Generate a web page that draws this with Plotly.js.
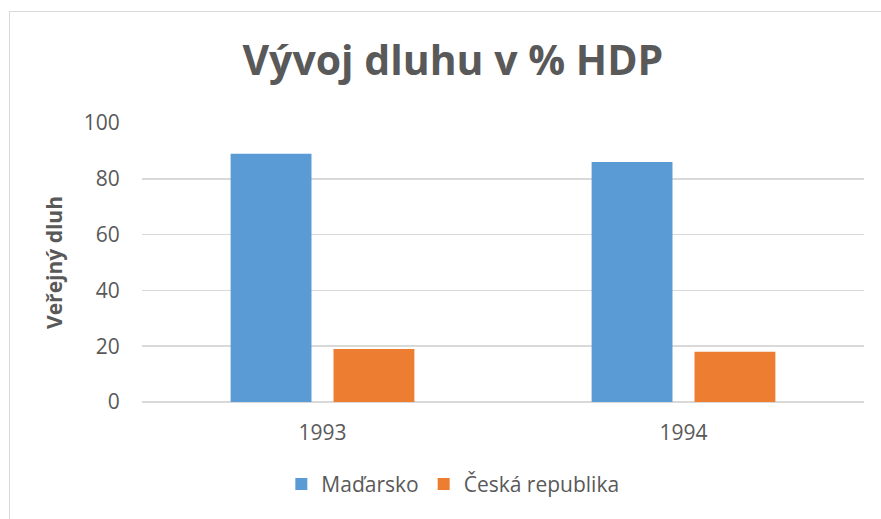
<!DOCTYPE html>
<html>
<head>
<meta charset="utf-8">
<script src="https://cdn.plot.ly/plotly-3.0.1.min.js"></script>
<style>
  html, body { margin: 0; padding: 0; background: #fff; }
  #wrap { position: relative; width: 881px; height: 519px; overflow: hidden; }
  #frame { position: absolute; left: 9px; top: 11px; width: 900px; height: 600px;
           border-left: 1.5px solid #d9d9d9; border-top: 1.5px solid #d9d9d9; pointer-events: none; }
  #chart { position: absolute; left: 0; top: 0; width: 881px; height: 519px; }
</style>
</head>
<body>
<div id="wrap">
  <div id="chart"></div>
  <div id="frame"></div>
</div>
<script>
const years = ['1993', '1994'];
const madarsko = [89, 86];
const ceskaRepublika = [19, 18];
const seriesNames = ['Maďarsko', 'Česká republika'];
const yTicks = [0, 20, 40, 60, 80, 100];

const font = '"Open Sans", "Noto Sans", sans-serif';

const traces = [
  { type: 'bar', name: seriesNames[0], x: years, y: madarsko,
    marker: { color: '#5B9BD5' }, hoverinfo: 'y' },
  { type: 'bar', name: seriesNames[1], x: years, y: ceskaRepublika,
    marker: { color: '#ED7D31' }, hoverinfo: 'y' }
];

const layout = {
  width: 881, height: 519,
  margin: { l: 142, r: 17, t: 123, b: 117, pad: 0 },
  paper_bgcolor: 'rgba(0,0,0,0)', plot_bgcolor: 'rgba(0,0,0,0)',
  barmode: 'group', bargap: 0.43, bargroupgap: 0.214,
  font: { family: font, color: '#595959', size: 21 },
  title: { text: 'Vývoj dluhu v % HDP', x: 0.514, xref: 'container', xanchor: 'center',
           y: 0.855, yref: 'container', yanchor: 'bottom',
           font: { family: font, size: 41, color: '#595959', weight: 'bold' } },
  xaxis: { type: 'category', showgrid: false, zeroline: false, showline: false,
           ticks: 'outside', ticklen: 12, tickcolor: 'rgba(0,0,0,0)',
           tickfont: { size: 21, color: '#595959' } },
  yaxis: { range: [0, 100], tickvals: yTicks, showgrid: true, gridcolor: '#d9d9d9', gridwidth: 1.5,
           zeroline: true, zerolinecolor: '#d9d9d9', zerolinewidth: 1.5, showline: false,
           ticks: 'outside', ticklen: 17, tickcolor: 'rgba(0,0,0,0)',
           tickfont: { size: 21, color: '#595959' },
           title: { text: 'Veřejný dluh', standoff: 15,
                    font: { size: 21, color: '#595959', weight: 'bold' } } },
  showlegend: true,
  legend: { orientation: 'h', x: 0.514, xref: 'container', xanchor: 'center',
            y: 0.067, yref: 'container', yanchor: 'middle',
            font: { size: 21, color: '#595959' }, itemwidth: 30, traceorder: 'normal' }
};

Plotly.newPlot('chart', traces, layout, { displayModeBar: false, staticPlot: true });
</script>
</body>
</html>
